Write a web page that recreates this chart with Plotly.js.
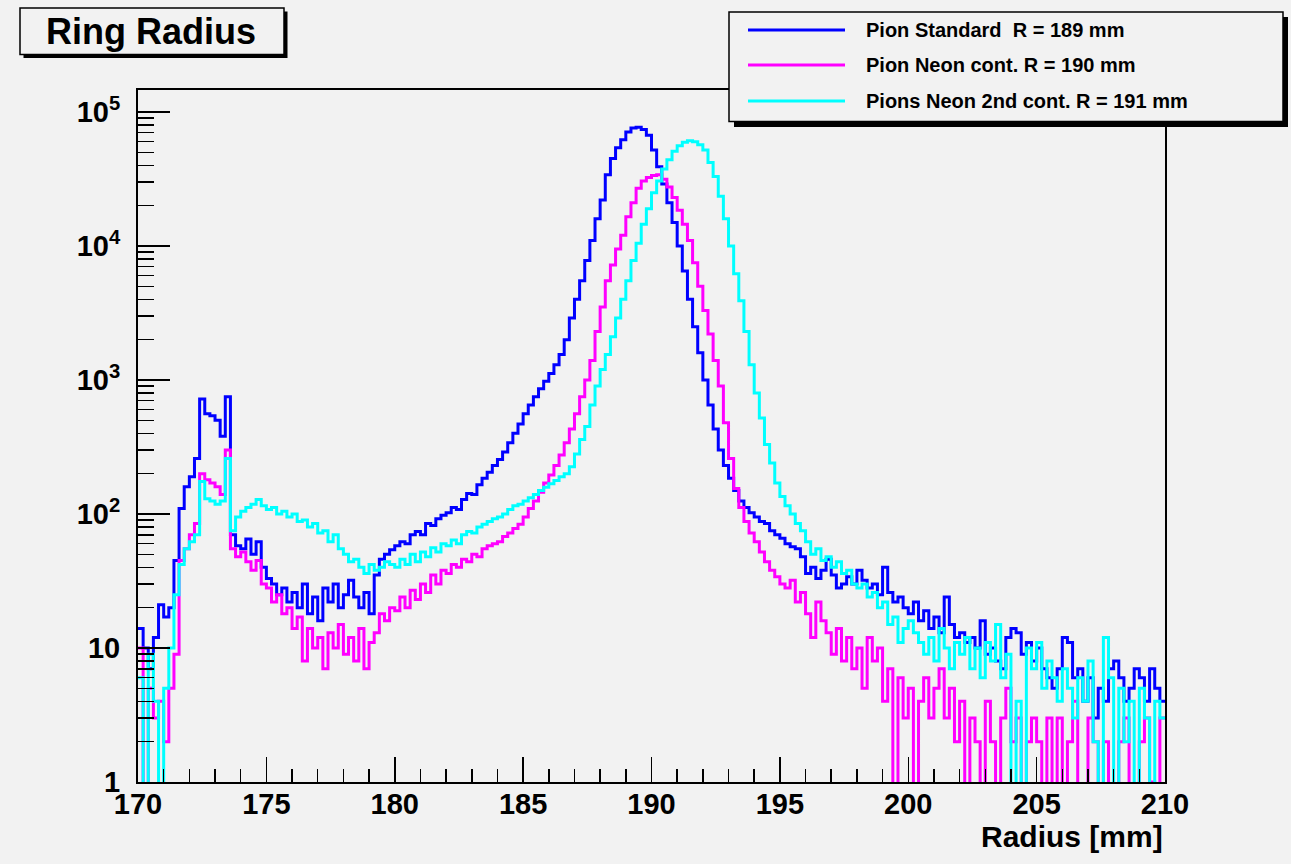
<!DOCTYPE html>
<html>
<head>
<meta charset="utf-8">
<script src="https://cdn.plot.ly/plotly-3.0.1.min.js"></script>
<style>
html,body{margin:0;padding:0;background:#f2f2f2;}
#chart{width:1291px;height:864px;}
</style>
</head>
<body>
<div id="chart"></div>
<script>
// ---- data (bins of 0.2 mm starting at 170 mm) ----
const binStart = 170;
const binWidth = 0.2;
const seriesNames = [
  "Pion Standard  R = 189 mm",
  "Pion Neon cont. R = 190 mm",
  "Pions Neon 2nd cont. R = 191 mm"
];
const seriesColors = ["#0000ff", "#ff00ff", "#00ffff"];

const pionStandard = [
  14, 10, 7, 12, 21, 17, 20, 45, 110, 160,
  190, 260, 720, 560, 540, 500, 380, 750, 70, 58,
  55, 65, 50, 62, 40, 33, 30, 25, 28, 22,
  26, 20, 30, 18, 24, 16, 28, 22, 30, 20,
  25, 32, 24, 20, 26, 18, 35, 46, 50, 54,
  58, 62, 60, 70, 74, 70, 85, 82, 92, 98,
  102, 112, 108, 128, 142, 140, 165, 185, 205, 230,
  255, 290, 340, 400, 470, 560, 650, 750, 860, 980,
  1120, 1300, 1550, 2000, 2900, 4000, 5500, 7800, 11000, 16000,
  22000, 34000, 45000, 54000, 62000, 71000, 76000, 77000, 74000, 67000,
  52000, 39000, 29000, 21000, 15000, 10000, 6500, 4000, 2500, 1600,
  1000, 650, 430, 300, 230, 185, 150, 125, 112, 102,
  95, 88, 85, 75, 70, 66, 60, 57, 55, 48,
  36, 40, 33, 38, 46, 35, 28, 30, 34, 30,
  38, 32, 28, 30, 25, 40, 26, 22, 24, 20,
  18, 22, 16, 19, 14, 17, 13, 24, 15, 12,
  13, 11, 12, 10, 16, 9, 10, 8, 7, 12,
  14, 13, 9, 11, 8, 10, 7, 6, 5, 7,
  12, 11, 6, 7, 4, 6, 3, 5, 4, 7,
  8, 6, 4, 5, 7, 6, 4, 7, 5, 4
];

const pionNeon = [
  10, 0, 5, 3, 4, 2, 5, 9, 45, 55,
  70, 85, 200, 180, 170, 160, 140, 300, 55, 48,
  52, 44, 38, 45, 30, 28, 22, 25, 18, 20,
  14, 17, 8, 14, 10, 12, 7, 13, 10, 15,
  9, 12, 8, 14, 7, 11, 13, 18, 16, 20,
  19, 24, 20, 27, 23, 30, 26, 35, 30, 38,
  36, 42, 40, 46, 44, 50, 48, 55, 58, 60,
  62, 68, 72, 78, 84, 95, 110, 125, 145, 170,
  195, 230, 275, 340, 430, 560, 750, 1000, 1400, 2300,
  3500, 5500, 7200, 9500, 12000, 16500, 21000, 27000, 30500, 32500,
  33500, 34000, 31500, 27500, 23000, 18500, 14500, 11000, 7500, 5000,
  3300, 2200, 1400, 900, 480, 260, 155, 112, 88, 72,
  62, 52, 44, 38, 34, 30, 28, 32, 22, 26,
  18, 12, 22, 16, 13, 9, 14, 8, 12, 7,
  10, 5, 12, 8, 10, 4, 7, 0, 6, 3,
  5, 0, 4, 6, 3, 5, 7, 3, 5, 2,
  4, 0, 3, 2, 0, 4, 2, 0, 3, 5,
  2, 3, 0, 2, 3, 2, 0, 3, 0, 3,
  0, 2, 4, 0, 0, 3, 2, 0, 2, 0,
  0, 2, 3, 0, 0, 2, 3, 1, 0, 3
];

const pionNeon2nd = [
  6, 0, 9, 4, 0, 5, 10, 25, 42, 55,
  62, 70, 175, 130, 125, 118, 125, 260, 75, 95,
  105, 112, 118, 128, 115, 108, 112, 100, 105, 95,
  100, 88, 90, 80, 85, 72, 75, 62, 70, 55,
  50, 44, 46, 40, 36, 42, 38, 40, 44, 42,
  40, 46, 42, 50, 44, 52, 48, 56, 52, 60,
  58, 64, 60, 70, 74, 72, 80, 84, 88, 92,
  95, 100, 108, 115, 118, 125, 132, 140, 150, 158,
  168, 178, 190, 200, 225, 280, 360, 450, 650, 900,
  1200, 1550, 2100, 2900, 4000, 5500, 7800, 10500, 14500, 19000,
  25000, 30500, 37500, 44000, 51000, 56000, 59500, 61000, 60000, 57000,
  52000, 42000, 33000, 23500, 16000, 10000, 6200, 3900, 2300, 1300,
  800, 520, 330, 240, 170, 135, 115, 100, 85, 75,
  62, 50, 55, 45, 48, 40, 44, 36, 38, 30,
  28, 30, 24, 26, 20, 22, 15, 17, 11, 14,
  16, 13, 11, 9, 12, 8, 14, 10, 7, 11,
  9, 12, 7, 10, 6, 11, 8, 15, 6, 9,
  0, 4, 0, 10, 7, 11, 5, 8, 6, 4,
  7, 5, 3, 6, 4, 8, 2, 0, 12, 6,
  0, 5, 2, 4, 0, 5, 3, 0, 4, 3
];

const yTickVals = [1, 10, 100, 1000, 10000, 100000];
const yTickText = ["1", "10", "10<sup>2</sup>", "10<sup>3</sup>", "10<sup>4</sup>", "10<sup>5</sup>"];
const titleText = "Ring Radius";
const xTitleText = "Radius [mm]";

// ---- build step traces ----
const allSeries = [pionStandard, pionNeon, pionNeon2nd];
function stepTrace(vals, name, color) {
  const x = [], y = [];
  for (let i = 0; i < vals.length; i++) {
    x.push(binStart + i * binWidth);
    y.push(vals[i] > 0 ? vals[i] : 0.1); // empty bins drop below the axis
  }
  x.push(binStart + vals.length * binWidth);
  y.push(y[y.length - 1]);
  return {
    type: "scatter", mode: "lines", x: x, y: y, name: name,
    line: {shape: "hv", color: color, width: 3},
    showlegend: false, hoverinfo: "skip"
  };
}
const traces = allSeries.map((s, i) => stepTrace(s, seriesNames[i], seriesColors[i]));

// ---- geometry helpers (pixels -> paper) ----
const W = 1291, H = 864;
const mL = 138, mR = 126, mT = 90, mB = 82;
const pw = W - mL - mR, ph = H - mT - mB;
const px = v => (v - mL) / pw;
const py = v => (H - mB - v) / ph;

const FONT = "Liberation Sans, Arial, Helvetica, sans-serif";
const BG = "#f2f2f2";

// minor y ticks (2..9 per decade)
const yMinor = [];
for (let d = 0; d < 5; d++) for (let k = 2; k <= 9; k++) yMinor.push(k * Math.pow(10, d));

const shapes = [];
const annotations = [];
// title box with shadow
shapes.push({type: "rect", xref: "paper", yref: "paper", x0: px(23.5), x1: px(287.5), y0: py(11.5), y1: py(58), fillcolor: "#000", line: {width: 0}, layer: "above"});
shapes.push({type: "rect", xref: "paper", yref: "paper", x0: px(20), x1: px(284), y0: py(8), y1: py(54.5), fillcolor: BG, line: {color: "#000", width: 1.5}, layer: "above"});
// legend box with shadow
shapes.push({type: "rect", xref: "paper", yref: "paper", x0: px(734), x1: px(1288), y0: py(17), y1: py(127), fillcolor: "#000", line: {width: 0}, layer: "above"});
shapes.push({type: "rect", xref: "paper", yref: "paper", x0: px(729), x1: px(1283), y0: py(12), y1: py(121.5), fillcolor: BG, line: {color: "#000", width: 1.5}, layer: "above"});
const legendRows = [30, 65, 101];
seriesNames.forEach((n, i) => {
  shapes.push({type: "line", xref: "paper", yref: "paper", x0: px(748), x1: px(845), y0: py(legendRows[i]), y1: py(legendRows[i]), line: {color: seriesColors[i], width: 3}, layer: "above"});
  annotations.push({xref: "paper", yref: "paper", x: px(864), y: py(legendRows[i]), xanchor: "left", yanchor: "middle", showarrow: false, text: n, font: {family: FONT, size: 20, color: "#000", weight: "bold"}});
});
// x-axis title, right aligned to the frame
annotations.push({xref: "paper", yref: "paper", x: 1, y: py(836), xanchor: "right", yanchor: "middle", showarrow: false, text: xTitleText, font: {family: FONT, size: 30, color: "#000", weight: "bold"}});

const layout = {
  width: W, height: H,
  margin: {l: mL, r: mR, t: mT, b: mB, pad: 0},
  paper_bgcolor: BG, plot_bgcolor: BG,
  showlegend: false,
  title: {text: titleText, xref: "container", yref: "container", x: 46 / W, xanchor: "left", y: 1 - 31 / H, yanchor: "middle", font: {family: FONT, size: 36, color: "#000", weight: "bold"}},
  xaxis: {
    range: [170, 210], tickmode: "linear", tick0: 170, dtick: 5,
    ticks: "inside", ticklen: 25, tickwidth: 1.5, tickcolor: "#000",
    minor: {ticks: "inside", dtick: 1, ticklen: 13, tickwidth: 1.5, tickcolor: "#000", showgrid: false},
    showline: true, linecolor: "#000", linewidth: 2, mirror: true,
    showgrid: false, zeroline: false, ticklabelstandoff: -5,
    tickfont: {family: FONT, size: 29, color: "#000", weight: "bold"}
  },
  yaxis: {
    type: "log", range: [0, 5.164],
    tickmode: "array", tickvals: yTickVals, ticktext: yTickText,
    ticks: "inside", ticklen: 32, tickwidth: 1.5, tickcolor: "#000",
    minor: {ticks: "inside", tickmode: "array", tickvals: yMinor, ticklen: 16, tickwidth: 1.5, tickcolor: "#000", showgrid: false},
    showline: true, linecolor: "#000", linewidth: 2, mirror: true,
    showgrid: false, zeroline: false, ticklabelstandoff: 10,
    tickfont: {family: FONT, size: 29, color: "#000", weight: "bold"}
  },
  shapes: shapes,
  annotations: annotations
};

Plotly.newPlot("chart", traces, layout, {staticPlot: true, displayModeBar: false});
</script>
</body>
</html>
